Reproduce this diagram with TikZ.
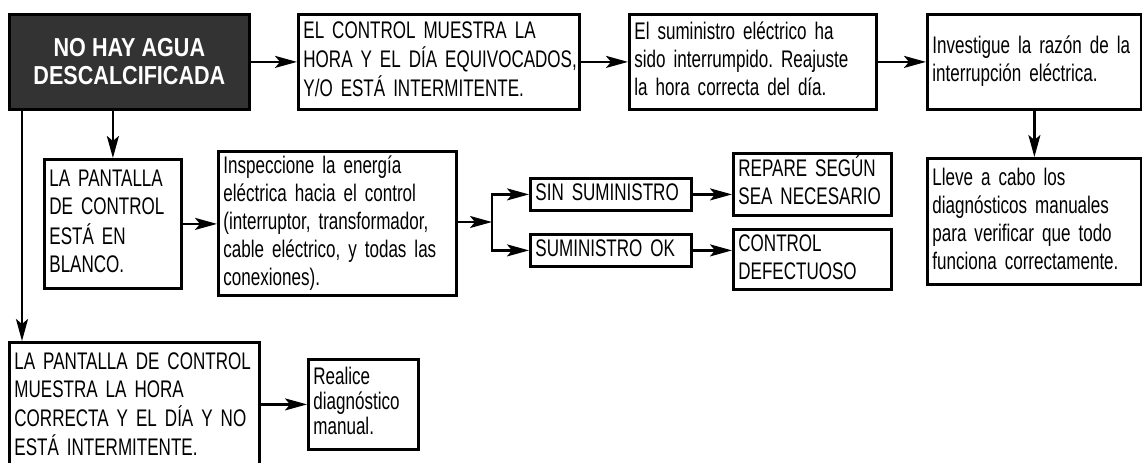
\documentclass[tikz,border=0pt]{standalone}
\usepackage{fontspec}
\setmainfont{Liberation Sans}[FakeStretch=0.71]
\newfontfamily\titlefont{Liberation Sans}[FakeStretch=0.83]
\usetikzlibrary{positioning, arrows.meta, calc}
\frenchspacing
\newcommand{\ml}[1]{\begin{tabular}{@{}l@{}}#1\end{tabular}}

\tikzset{
  box/.style={draw, line width=1.4pt, anchor=north west, inner xsep=2.5pt, inner ysep=1pt,
    font=\fontsize{12}{14}\selectfont},
  arr/.style={line width=1.2pt, -{Stealth[length=11pt, width=6pt, inset=2.5pt]}},
}

\begin{document}
\begin{tikzpicture}[x=0.5pt, y=-0.5pt]
    \useasboundingbox (0,0) rectangle (1142,462);
    % first row
    \node[box, fill=black!80, text=white, align=center, minimum width=120pt, minimum height=47.5pt,
      font=\titlefont\bfseries\fontsize{13}{14}\selectfont] (title) at (8,13) {NO HAY AGUA\\DESCALCIFICADA};
    \node[box, text width=135.5pt, minimum height=47.5pt] (ctrl) at (297,13)
      {\ml{EL CONTROL MUESTRA LA\\HORA Y EL DÍA EQUIVOCADOS,\\Y/O ESTÁ INTERMITENTE.}};
    \node[box, text width=118.5pt, minimum height=47.5pt] (power) at (628,13)
      {\ml{El suministro eléctrico ha\\sido interrumpido. Reajuste\\la hora correcta del día.}};
    \node[box, text width=102pt, minimum height=47.5pt] (invest) at (926,13)
      {\ml{Investigue la razón de la\\interrupción eléctrica.}};
    \node[box, text width=102pt, minimum height=63pt] (manual) at (926,157)
      {\ml{Lleve a cabo los\\diagnósticos manuales\\para verificar que todo\\funciona correctamente.}};
    % second row
    \node[box, text width=63.5pt, minimum height=64.5pt] (blank) at (43,158)
      {\ml{LA PANTALLA\\DE CONTROL\\ESTÁ EN\\BLANCO.}};
    \node[box, text width=114pt, minimum height=71.5pt] (inspect) at (217,150)
      {\ml{Inspeccione la energía\\eléctrica hacia el control\\(interruptor, transformador,\\cable eléctrico, y todas las\\conexiones).}};
    \node[box, text width=75.5pt, minimum height=15pt] (sin) at (529,177) {\ml{SIN SUMINISTRO}};
    \node[box, text width=75.5pt, minimum height=13pt] (ok) at (529,233) {\ml{SUMINISTRO OK}};
    \node[box, text width=74pt, minimum height=31pt] (repare) at (732,152) {\ml{REPARE SEGÚN\\SEA NECESARIO}};
    \node[box, text width=74pt, minimum height=26.5pt] (defect) at (732,228) {\ml{CONTROL\\DEFECTUOSO}};
    % third row
    \node[box, text width=120pt, minimum height=64.5pt] (correct) at (8,341)
      {\ml{LA PANTALLA DE CONTROL\\MUESTRA LA HORA\\CORRECTA Y EL DÍA Y NO\\ESTÁ INTERMITENTE.}};
    \node[box, text width=50pt, minimum height=45pt, font=\fontsize{12}{12}\selectfont] (realice) at (307,358)
      {\ml{Realice\\diagnóstico\\manual.}};

    \coordinate (split) at (492,222);

    \draw[arr] (title) -- (ctrl);
    \draw[arr] (ctrl) -- (power);
    \draw[arr] (power) -- (invest);
    \draw[arr] (invest) -- (manual);
    \draw[arr] (title.south -| blank.north) -- (blank.north);
    \draw[arr] ([xshift=7pt]title.south west) -- ([xshift=7pt]correct.north west);
    \draw[arr] (blank.east) -- (blank.east -| inspect.west);
    \draw[arr] (inspect.east |- split) -- (split);
    \draw[arr] (split) |- (sin.west);
    \draw[arr] (split) |- (ok.west);
    \draw[arr] (sin.east) -- (sin.east -| repare.west);
    \draw[arr] (ok.east) -- (ok.east -| defect.west);
    \draw[arr] (correct.east |- realice.west) -- (realice.west);
\end{tikzpicture}
\end{document}
